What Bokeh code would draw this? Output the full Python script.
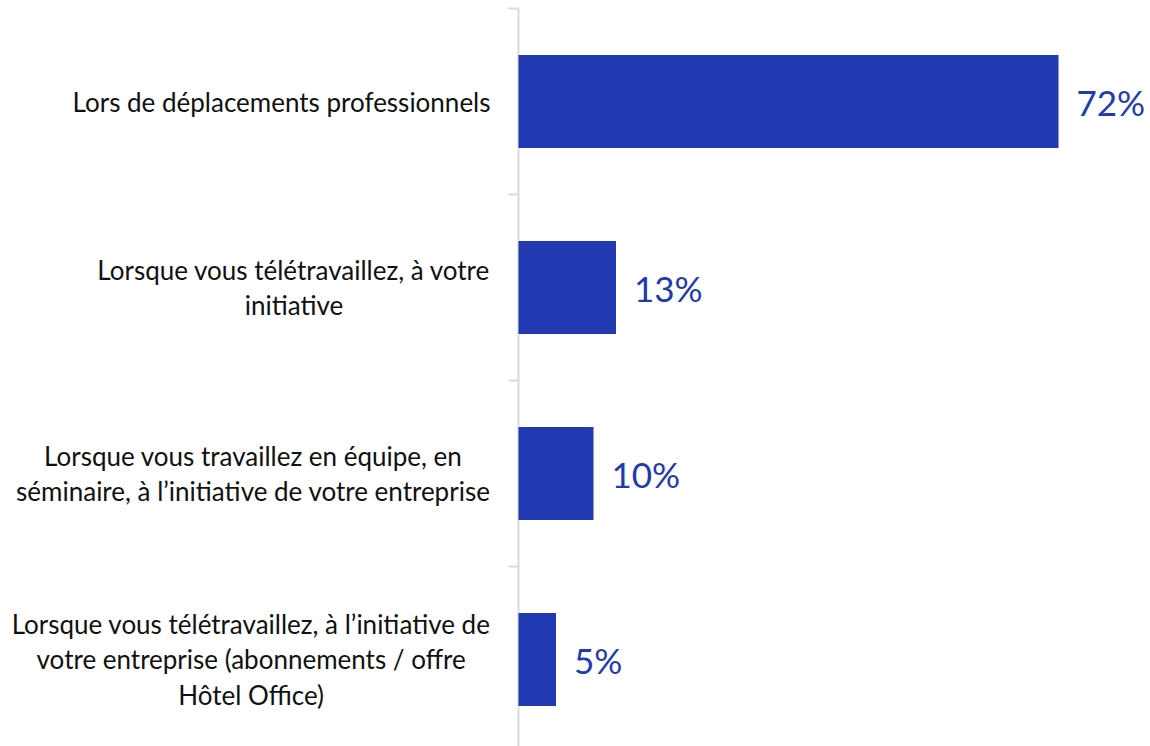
from bokeh.plotting import figure
from bokeh.models import Range1d
from bokeh.core.properties import value
from bokeh.embed import file_html
from bokeh.resources import INLINE

categories = [
    "Lors de déplacements professionnels",
    "Lorsque vous télétravaillez, à votre\ninitiative",
    "Lorsque vous travaillez en équipe, en\nséminaire, à l’initiative de votre entreprise",
    "Lorsque vous télétravaillez, à l’initiative de\nvotre entreprise (abonnements / offre\nHôtel Office)",
]
values = [72, 13, 10, 5]
value_labels = ["72%", "13%", "10%", "5%"]

BLUE = "#2139B1"
GREY = "#d9d9d9"
W, H = 1150, 746
AXIS_X = 518          # page x of the category axis
TOP = 8               # page y of the first band edge
PX_PER_PCT = 7.5
BAND_PX = 186.0

n = len(categories)
x_start = -AXIS_X / PX_PER_PCT
x_end = (W - AXIS_X) / PX_PER_PCT
y_end = n + TOP / BAND_PX
y_start = n - (H - TOP) / BAND_PX

p = figure(width=W, height=H, output_backend="svg", toolbar_location=None,
           x_range=Range1d(x_start, x_end), y_range=Range1d(y_start, y_end),
           min_border_left=0, min_border_right=0, min_border_top=0, min_border_bottom=0)
p.outline_line_color = None
p.xgrid.visible = False
p.ygrid.visible = False
p.xaxis.visible = False
p.yaxis.visible = False
p.background_fill_color = "white"
p.border_fill_color = "white"

ys = [n - i - 0.5 for i in range(n)]
edges = list(range(0, n + 1))

# category axis line and tick marks at the band edges
tick_len = 10 / PX_PER_PCT
p.segment(x0=[0], x1=[0], y0=[y_start], y1=[n], line_color=GREY, line_width=2)
p.segment(x0=[-tick_len] * len(edges), x1=[0] * len(edges), y0=edges, y1=edges,
          line_color=GREY, line_width=2)

p.hbar(y=ys, left=0, right=values, height=0.5, color=BLUE, line_color=None)

# category labels, right-anchored, lines centred within the block
lab_x = -28 / PX_PER_PCT
p.text(x=[lab_x] * n, y=ys, text=categories, anchor="center_right", text_align="center",
       text_baseline="middle", text_font=value("Lato"), text_font_size="26px",
       text_color="#111111", text_line_height=1.12)

# value labels
p.text(x=values, y=ys, text=value_labels, x_offset=18, text_align="left",
       text_baseline="middle", text_font=value("Lato"), text_font_size="35px",
       text_color=BLUE)

open("out.html", "w").write(file_html(p, INLINE))
